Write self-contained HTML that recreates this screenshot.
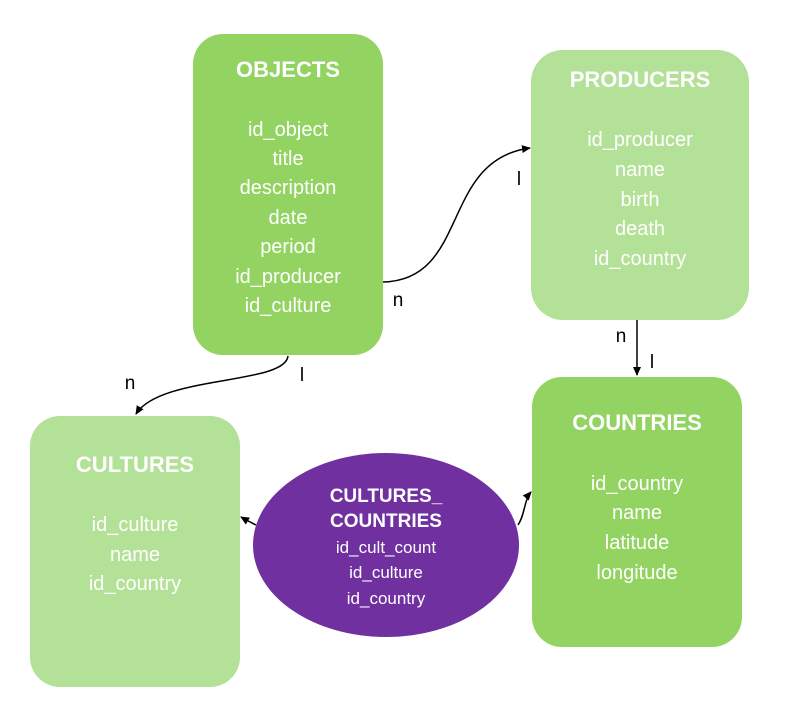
<!DOCTYPE html>
<html><head><meta charset="utf-8"><style>
html,body{margin:0;padding:0;background:#fff;}
svg{display:block;font-family:"Liberation Sans",sans-serif;}
.t{fill:#fff;font-weight:bold;font-size:22px;text-anchor:middle;}
.f{fill:#fff;font-size:20px;text-anchor:middle;}
.l{fill:#000;font-size:19px;text-anchor:middle;}
</style></head><body>
<svg width="801" height="723" viewBox="0 0 801 723">
<defs><marker id="a" markerWidth="10" markerHeight="10" refX="8" refY="5" orient="auto" markerUnits="userSpaceOnUse"><path d="M0,1 L9,5 L0,9 z" fill="#000"/></marker></defs>
<rect x="193" y="34" width="190" height="321" rx="30" fill="#92d362"/>
<rect x="531" y="50" width="218" height="270" rx="32" fill="#b3e197"/>
<rect x="532" y="377" width="210" height="270" rx="30" fill="#92d362"/>
<rect x="30" y="416" width="210" height="271" rx="30" fill="#b3e197"/>
<ellipse cx="386" cy="545" rx="133" ry="92" fill="#7030a0"/>
<text class="t" x="288" y="77">OBJECTS</text>
<text class="f" x="288" y="136">id_object</text>
<text class="f" x="288" y="165">title</text>
<text class="f" x="288" y="194">description</text>
<text class="f" x="288" y="224">date</text>
<text class="f" x="288" y="253">period</text>
<text class="f" x="288" y="283">id_producer</text>
<text class="f" x="288" y="312">id_culture</text>
<text class="t" x="640" y="87">PRODUCERS</text>
<text class="f" x="640" y="146">id_producer</text>
<text class="f" x="640" y="176">name</text>
<text class="f" x="640" y="206">birth</text>
<text class="f" x="640" y="235">death</text>
<text class="f" x="640" y="265">id_country</text>
<text class="t" x="637" y="430">COUNTRIES</text>
<text class="f" x="637" y="490">id_country</text>
<text class="f" x="637" y="519">name</text>
<text class="f" x="637" y="549">latitude</text>
<text class="f" x="637" y="579">longitude</text>
<text class="t" x="135" y="472">CULTURES</text>
<text class="f" x="135" y="531">id_culture</text>
<text class="f" x="135" y="561">name</text>
<text class="f" x="135" y="590">id_country</text>
<text class="t" style="font-size:19px" x="386" y="502">CULTURES_</text>
<text class="t" style="font-size:19px" x="386" y="527">COUNTRIES</text>
<text class="f" style="font-size:17px" x="386" y="553">id_cult_count</text>
<text class="f" style="font-size:17px" x="386" y="578">id_culture</text>
<text class="f" style="font-size:17px" x="386" y="604">id_country</text>
<g fill="none" stroke="#000" stroke-width="1.5">
<path d="M383,282 C470,280 440,160 530,148" marker-end="url(#a)"/>
<path d="M637,320 L637,375" marker-end="url(#a)"/>
<path d="M288,356 C285,385 160,375 136,414" marker-end="url(#a)"/>
<path d="M256,525 C250,522 246,520 241,517" marker-end="url(#a)"/>
<path d="M518,525 C525,515 524,500 531,492" marker-end="url(#a)"/>
</g>
<text class="l" x="398" y="306">n</text>
<text class="l" x="519" y="185">l</text>
<text class="l" x="621" y="342">n</text>
<text class="l" x="652" y="368">l</text>
<text class="l" x="302" y="381">l</text>
<text class="l" x="130" y="389">n</text>
</svg>
</body></html>
